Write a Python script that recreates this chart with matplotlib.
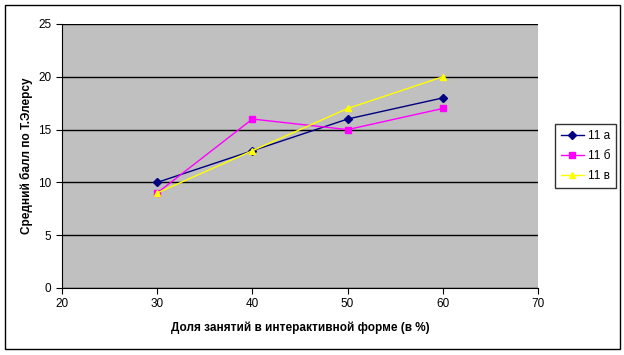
import matplotlib.pyplot as plt
from matplotlib.patches import Rectangle

plt.rcParams['font.family'] = ['Liberation Sans', 'DejaVu Sans']

share = [30, 40, 50, 60]
class_a = [10, 13, 16, 18]
class_b = [9, 16, 15, 17]
class_v = [9, 13, 17, 20]

fig = plt.figure(figsize=(6.24, 3.55), dpi=100)
ax = fig.add_axes([62/624, 1-288/355, (538-62)/624, (288-24)/355])

# outer chart border
fig.patches.append(Rectangle((5/624, 6/355), 615/624, 344/355, transform=fig.transFigure,
                             fill=False, edgecolor='black', linewidth=1))

ax.set_facecolor('#c0c0c0')
ax.plot(share, class_a, color='#000080', marker='D', markersize=4, linewidth=1, label='11 а')
ax.plot(share, class_b, color='#ff00ff', marker='s', markersize=5, linewidth=1, label='11 б')
ax.plot(share, class_v, color='#ffff00', marker='^', markersize=5, linewidth=1, label='11 в')

ax.set_xlim(20, 70)
ax.set_ylim(0, 25)
ax.set_xticks([20, 30, 40, 50, 60, 70])
ax.set_yticks([0, 5, 10, 15, 20, 25])
ax.yaxis.grid(True, color='black', linewidth=1)
ax.set_axisbelow(True)
for s in ['top', 'right']:
    ax.spines[s].set_visible(False)
ax.tick_params(direction='out', length=4, labelsize=8.5)
ax.set_xlabel('Доля занятий в интерактивной форме (в %)', fontsize=8.5, fontweight='bold', labelpad=8)
ax.set_ylabel('Средний балл по Т.Элерсу', fontsize=8.5, fontweight='bold', labelpad=4)

leg = ax.legend(loc='center left', bbox_to_anchor=(1.035, 0.5), frameon=True, fancybox=False,
                edgecolor='black', fontsize=8.5, handlelength=2.0, handletextpad=0.3,
                borderpad=0.5, borderaxespad=0, labelspacing=0.7)
leg.get_frame().set_linewidth(1)

fig.savefig('out.png', dpi=100)
